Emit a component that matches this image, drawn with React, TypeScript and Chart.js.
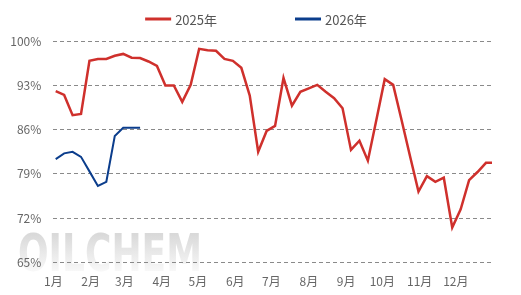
import React, { useEffect, useRef } from 'react';
import { Chart, registerables } from 'chart.js';

Chart.register(...registerables);

// ---- data ----
const monthLabels = ['1月', '2月', '3月', '4月', '5月', '6月', '7月', '8月', '9月', '10月', '11月', '12月'];
const monthStartDays = [0, 31, 59, 90, 120, 151, 181, 212, 243, 273, 304, 334];
const firstWeekDay = 2; // day-of-year of the first weekly reading
const seriesNames = ['2025年', '2026年'];

const rate2025 = [
  92.1, 91.5, 88.3, 88.5, 96.9, 97.2, 97.2, 97.7, 98.0, 97.4,
  97.35, 96.8, 96.1, 93.0, 93.0, 90.4, 93.1, 98.8, 98.6, 98.5,
  97.2, 96.9, 95.8, 91.4, 82.5, 85.8, 86.6, 94.2, 89.8, 92.0,
  92.55, 93.1, 92.0, 91.0, 89.4, 82.8, 84.25, 81.1, 87.5, 94.0,
  93.1, 87.5, 81.8, 76.2, 78.65, 77.75, 78.4, 70.5, 73.4, 78.0,
  79.3, 80.75, 80.75,
];
const rate2026 = [81.35, 82.25, 82.5, 81.7, 79.4, 77.1, 77.75, 85.0, 86.3, 86.3, 86.3];

const yMin = 65;
const yMax = 100;
const yStep = 7;
const xMaxDay = 364;

const toPoints = (vals: number[]) => vals.map((v, i) => ({ x: firstWeekDay + 7 * i, y: v }));

const watermarkPlugin = {
  id: 'watermark',
  beforeDraw(chart: any) {
    const ctx = chart.ctx;
    ctx.save();
    const g = ctx.createLinearGradient(0, 234, 0, 271);
    g.addColorStop(0, '#d9d9d9');
    g.addColorStop(1, '#f8f8f8');
    ctx.fillStyle = g;
    ctx.font = 'bold 51px "DejaVu Sans", "Liberation Sans", sans-serif';
    ctx.textBaseline = 'alphabetic';
    ctx.textAlign = 'left';
    ctx.fillText('OILCHEM', 18, 271, 184);
    ctx.restore();
  },
};

const legendPlugin = {
  id: 'topLegend',
  afterDraw(chart: any) {
    const ctx = chart.ctx;
    ctx.save();
    ctx.font = '13px "Noto Sans CJK SC", "Noto Sans", sans-serif';
    const lineW = 26;
    const gap = 4;
    const itemGap = 78;
    const ds = chart.data.datasets;
    const widths = ds.map((d: any) => lineW + gap + ctx.measureText(d.label).width);
    const total = widths.reduce((a: number, b: number) => a + b, 0) + itemGap * (ds.length - 1);
    let x = chart.width / 2 - 4.5 - total / 2;
    const y = 19;
    ds.forEach((d: any, i: number) => {
      ctx.strokeStyle = d.borderColor;
      ctx.lineWidth = 3;
      ctx.beginPath();
      ctx.moveTo(x, y);
      ctx.lineTo(x + lineW, y);
      ctx.stroke();
      ctx.fillStyle = '#555';
      ctx.textBaseline = 'middle';
      ctx.textAlign = 'left';
      ctx.fillText(d.label, x + lineW + gap, y + 1);
      x += widths[i] + itemGap;
    });
    ctx.restore();
  },
};

export default function App() {
  const ref = useRef<HTMLCanvasElement | null>(null);

  useEffect(() => {
    document.body.style.margin = '0';
    if (!ref.current) return;
    const chart = new Chart(ref.current, {
      type: 'line',
      data: {
        datasets: [
          {
            label: seriesNames[0],
            data: toPoints(rate2025),
            borderColor: '#cf302c',
            backgroundColor: '#cf302c',
            borderWidth: 2.5,
            pointRadius: 0,
            tension: 0,
          },
          {
            label: seriesNames[1],
            data: toPoints(rate2026),
            borderColor: '#0b3d8c',
            backgroundColor: '#0b3d8c',
            borderWidth: 2,
            pointRadius: 0,
            tension: 0,
          },
        ],
      },
      options: {
        animation: false,
        responsive: true,
        maintainAspectRatio: false,
        layout: { padding: { top: 41.3, right: 29, bottom: 0, left: 0 } },
        plugins: {
          legend: { display: false },
          tooltip: { enabled: false },
        },
        scales: {
          x: {
            type: 'linear',
            min: 0,
            max: xMaxDay,
            grid: { display: false, drawTicks: false },
            border: { display: false },
            afterBuildTicks: (scale: any) => {
              scale.ticks = monthStartDays.map((v) => ({ value: v }));
            },
            afterFit: (scale: any) => {
              scale.height = 32.7;
            },
            ticks: {
              autoSkip: false,
              maxRotation: 0,
              padding: 11.6,
              color: '#666',
              font: { size: 12, family: '"Noto Sans CJK SC", "Noto Sans", sans-serif' },
              callback: (value: any) => {
                const idx = monthStartDays.indexOf(Number(value));
                return idx >= 0 ? monthLabels[idx] : '';
              },
            },
          },
          y: {
            min: yMin,
            max: yMax,
            grid: { color: '#8a8a8a', lineWidth: 1, drawTicks: false },
            border: { display: false, dash: [4, 3] },
            afterFit: (scale: any) => {
              scale.width = 53.3;
            },
            ticks: {
              stepSize: yStep,
              padding: 12,
              color: '#666',
              font: { size: 12, family: '"Noto Sans CJK SC", "Noto Sans", sans-serif' },
              callback: (value: any) => `${value}%`,
            },
          },
        },
      },
      plugins: [watermarkPlugin, legendPlugin],
    });
    return () => chart.destroy();
  }, []);

  return (
    <div style={{ position: 'relative', width: 521, height: 295 }}>
      <canvas ref={ref} />
    </div>
  );
}
